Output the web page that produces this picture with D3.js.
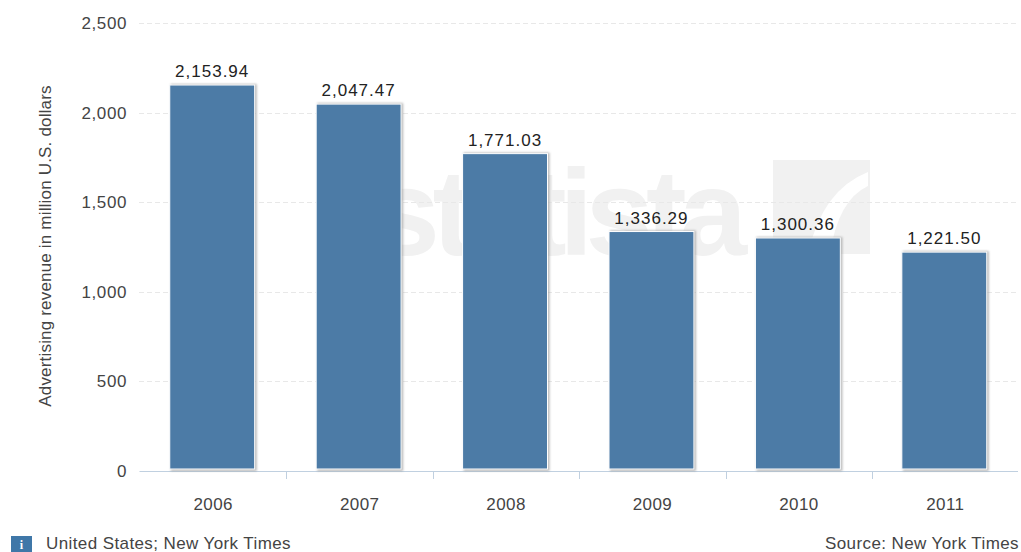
<!DOCTYPE html>
<html><head><meta charset="utf-8">
<script src="https://cdnjs.cloudflare.com/ajax/libs/d3/7.8.5/d3.min.js"></script>
<style>html,body{margin:0;padding:0;background:#fff}svg{display:block}text{font-family:"Liberation Sans",Arial,sans-serif}</style>
</head><body><svg id="c" width="1021" height="552"></svg>
<script>
const years=["2006","2007","2008","2009","2010","2011"];
const revenue=[2153.94,2047.47,1771.03,1336.29,1300.36,1221.50];
const yTicks=[0,500,1000,1500,2000,2500];
const yLabel="Advertising revenue in million U.S. dollars";
const noteLeft="United States; New York Times";
const noteRight="Source: New York Times";
const watermark="statista";

const svg=d3.select("#c");
const m={l:139,r:1017.5,t:23,b:471};
const x=d3.scaleBand().domain(years).range([m.l,m.r]).paddingInner(0.42).paddingOuter(0.21);
const y=d3.scaleLinear().domain([0,2500]).range([m.b,m.t]);
const defs=svg.append("defs");
const f=defs.append("filter").attr("id","blur").attr("x","-10%").attr("y","-10%").attr("width","120%").attr("height","120%");
f.append("feGaussianBlur").attr("stdDeviation",1.2);

// watermark
const wm=svg.append("g").attr("fill","#f1f1f1");
wm.append("text").attr("x",372).attr("y",255).attr("font-size",122).attr("font-weight",700).attr("textLength",375).text(watermark);
wm.append("path").attr("d",(()=>{const p=d3.path();p.moveTo(773,160);p.lineTo(870,160);p.lineTo(870,254);p.lineTo(773,254);p.closePath();return p.toString();})());
svg.append("path").attr("fill","#fff").attr("d",(()=>{const p=d3.path();p.moveTo(808,254);p.quadraticCurveTo(822,190,868,172);p.lineTo(868,186);p.quadraticCurveTo(838,200,830,254);p.closePath();return p.toString();})());

// grid
svg.append("g").selectAll("line").data(yTicks.slice(1)).join("line")
 .attr("x1",m.l).attr("x2",m.r).attr("y1",d=>Math.round(y(d))+.5).attr("y2",d=>Math.round(y(d))+.5)
 .attr("stroke","#e8e8e8").attr("stroke-dasharray","5,3");

// axis baseline + ticks
const bottom=d3.axisBottom(x).tickSize(0).tickPadding(26);
const ax=svg.append("g").attr("transform",`translate(0,${m.b})`).call(bottom);
ax.select(".domain").attr("stroke","#c0d0e0").attr("stroke-width",1.2);
ax.selectAll("text").attr("font-size",17).attr("letter-spacing",.4).attr("fill","#444").attr("dy",0).attr("y",39).attr("x",1);
const step=x.step();
svg.append("g").selectAll("line").data(years.slice(0,-1)).join("line")
 .attr("x1",d=>Math.round(x(d)+x.bandwidth()+(step-x.bandwidth())/2)+1.5)
 .attr("x2",d=>Math.round(x(d)+x.bandwidth()+(step-x.bandwidth())/2)+1.5)
 .attr("y1",m.b).attr("y2",m.b+8).attr("stroke","#c0d0e0");

// y axis
const left=d3.axisLeft(y).tickValues(yTicks).tickSize(0).tickPadding(12).tickFormat(d3.format(","));
const ay=svg.append("g").attr("transform",`translate(${m.l},0)`).call(left);
ay.select(".domain").remove();
ay.selectAll("text").attr("font-size",17).attr("letter-spacing",.6).attr("fill","#444");

svg.append("text").attr("transform","translate(51,246) rotate(-90)").attr("text-anchor","middle")
 .attr("font-size",17).attr("letter-spacing",.18).attr("fill","#444").text(yLabel);

// bars
const bars=svg.append("g");
bars.selectAll("rect.s").data(years).join("rect").attr("class","s")
 .attr("x",d=>x(d)+1).attr("width",x.bandwidth()+1).attr("y",(d,i)=>y(revenue[i])-1).attr("height",(d,i)=>m.b-y(revenue[i])+1)
 .attr("fill","#999").attr("opacity",.7).attr("filter","url(#blur)");
bars.selectAll("rect.b").data(years).join("rect").attr("class","b")
 .attr("x",d=>x(d)).attr("width",x.bandwidth()).attr("y",(d,i)=>y(revenue[i])).attr("height",(d,i)=>m.b-2-y(revenue[i]))
 .attr("fill","#4c7ba6").attr("stroke","#fff").attr("stroke-width",1);

svg.append("g").selectAll("text").data(years).join("text")
 .attr("x",d=>x(d)+x.bandwidth()/2).attr("y",(d,i)=>y(revenue[i])-8).attr("text-anchor","middle")
 .attr("font-family","DejaVu Sans").attr("font-size",17).attr("letter-spacing",1).attr("fill","#222").text((d,i)=>d3.format(",.2f")(revenue[i]));

// footer
svg.append("rect").attr("x",11).attr("y",536).attr("width",21).attr("height",16).attr("fill","#3f77a8");
svg.append("text").attr("x",21.5).attr("y",549).attr("text-anchor","middle").attr("font-size",12).attr("font-weight",700).attr("style","font-family:'Liberation Serif',serif").attr("fill","#fff").text("i");
svg.append("text").attr("x",46).attr("y",549).attr("font-size",17).attr("letter-spacing",.4).attr("fill","#444").text(noteLeft);
svg.append("text").attr("x",1019).attr("y",549).attr("text-anchor","end").attr("font-size",17).attr("letter-spacing",.4).attr("fill","#444").text(noteRight);
</script></body></html>
